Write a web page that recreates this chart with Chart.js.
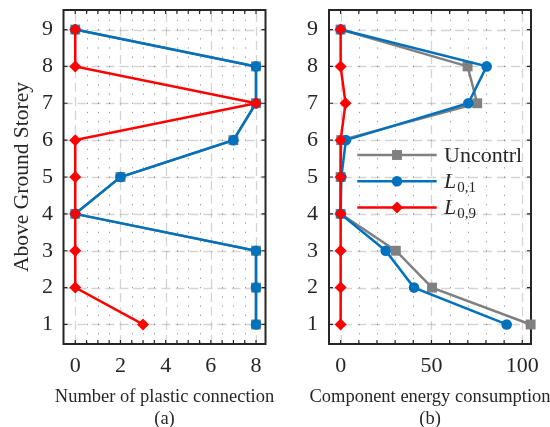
<!DOCTYPE html>
<html>
<head>
<meta charset="utf-8">
<script src="https://cdn.jsdelivr.net/npm/chart.js@4/dist/chart.umd.min.js"></script>
<style>
  html, body { margin: 0; padding: 0; background: #fff; overflow: hidden; width: 550px; height: 427px; }
  #wa { position: absolute; left: 0; top: 0; width: 295px; height: 431px; }
  #wb { position: absolute; left: 295px; top: 0; width: 255px; height: 431px; }
</style>
</head>
<body>
<div id="wa"><canvas id="ca"></canvas></div>
<div id="wb"><canvas id="cb"></canvas></div>
<script>
// Storeys above ground
const storeys = [1, 2, 3, 4, 5, 6, 7, 8, 9];
const storeyTicks = [1, 2, 3, 4, 5, 6, 7, 8, 9];

// (a) number of plastic connections, storey 1 -> 9
const plasticUncontrl = [8, 8, 8, 0, 2, 7, 8, 8, 0];
const plasticL01      = [8, 8, 8, 0, 2, 7, 8, 8, 0];
const plasticL09      = [3, 0, 0, 0, 0, 0, 8, 0, 0];
const plasticTicks = [0, 2, 4, 6, 8];
const plasticMinor = [0, 0.5, 1, 1.5, 2, 2.5, 3, 3.5, 4, 4.5, 5, 5.5, 6, 6.5, 7, 7.5, 8];

// (b) component energy consumption, storey 1 -> 9
const energyUncontrl = [104.6, 50.3, 30.4, 0, 0, 0.3, 75.2, 69.9, 0];
const energyL01      = [91.4, 40.4, 24.8, 0, 0.4, 2.9, 70.3, 80.4, 0];
const energyL09      = [0, 0, 0, 0, 0, 0, 2.7, 0, 0];
const energyTicks = [0, 50, 100];
const energyMinor = [0, 10, 20, 30, 40, 50, 60, 70, 80, 90, 100];

const serif = "'Liberation Serif', serif";
const ink = '#262626';
const GRAY = '#808080', BLUE = '#0072BD', RED = '#FF0000';

const pts = vals => vals.map((v, i) => ({ x: v, y: storeys[i] }));

function series(vals, color, style, radius, order) {
  return {
    data: pts(vals),
    showLine: true,
    borderColor: color,
    backgroundColor: color,
    borderWidth: 2.5,
    pointStyle: style,
    pointRadius: radius,
    pointHoverRadius: radius,
    pointBorderWidth: 0,
    clip: false,
    order: order
  };
}

// grid lines, box and inward tick marks, drawn beneath the data
const boxPlugin = {
  id: 'box',
  beforeDatasetsDraw(chart, args, o) {
    const { ctx, chartArea: a, scales: { x, y } } = chart;
    ctx.save();
    // minor dotted grid
    const step = Math.abs(y.getPixelForValue(1.25) - y.getPixelForValue(1));
    ctx.strokeStyle = 'rgba(38,38,38,0.45)';
    ctx.lineWidth = 1;
    ctx.setLineDash([1.3, step - 1.3]);
    const y0 = y.getPixelForValue(9.5);
    o.xMinor.forEach(v => {
      if (o.xTicks.includes(v)) return;
      const px = Math.round(x.getPixelForValue(v)) + 0.5;
      ctx.beginPath(); ctx.moveTo(px, y0 - 0.6); ctx.lineTo(px, a.bottom); ctx.stroke();
    });
    // major dashed grid
    ctx.strokeStyle = 'rgba(38,38,38,0.2)';
    ctx.lineWidth = 1.3;
    ctx.setLineDash([9, 5]);
    o.xTicks.forEach(v => {
      const px = Math.round(x.getPixelForValue(v)) + 0.5;
      ctx.beginPath(); ctx.moveTo(px, a.bottom); ctx.lineTo(px, a.top); ctx.stroke();
    });
    storeyTicks.forEach(v => {
      const py = Math.round(y.getPixelForValue(v)) + 0.5;
      ctx.beginPath(); ctx.moveTo(a.left, py); ctx.lineTo(a.right, py); ctx.stroke();
    });
    // box
    ctx.setLineDash([]);
    ctx.strokeStyle = ink;
    ctx.lineWidth = 2;
    ctx.strokeRect(a.left, a.top, a.right - a.left, a.bottom - a.top);
    // inward ticks
    ctx.lineWidth = 1.2;
    const tl = 4;
    o.xMinor.forEach(v => {
      const px = x.getPixelForValue(v);
      ctx.beginPath();
      ctx.moveTo(px, a.bottom); ctx.lineTo(px, a.bottom - tl);
      ctx.moveTo(px, a.top); ctx.lineTo(px, a.top + tl);
      ctx.stroke();
    });
    storeyTicks.forEach(v => {
      const py = y.getPixelForValue(v);
      ctx.beginPath();
      ctx.moveTo(a.left, py); ctx.lineTo(a.left + tl, py);
      ctx.moveTo(a.right, py); ctx.lineTo(a.right - tl, py);
      ctx.stroke();
    });
    ctx.restore();
  },
  afterDraw(chart, args, o) {
    // two-line axis caption under the x axis
    const { ctx, chartArea: a } = chart;
    ctx.save();
    ctx.fillStyle = ink;
    ctx.textAlign = 'center';
    ctx.textBaseline = 'middle';
    ctx.font = `18.5px ${serif}`;
    const cx = (a.left + a.right) / 2;
    ctx.fillText(o.caption[0], cx, a.bottom + 52.7);
    ctx.fillText(o.caption[1], cx, a.bottom + 75);
    ctx.restore();
  }
};

// legend with italic L and subscripted indices
const legendPlugin = {
  id: 'subLegend',
  afterDatasetsDraw(chart, args, o) {
    if (!o.items) return;
    const { ctx, chartArea: a } = chart;
    ctx.save();
    const x0 = a.left + 28.3, x1 = a.left + 107.7, xt = a.left + 115;
    o.items.forEach((it, i) => {
      const yy = a.top + 145 + i * 26.2;
      const ds = chart.data.datasets[it.ds];
      ctx.strokeStyle = ds.borderColor;
      ctx.lineWidth = 2.5;
      ctx.beginPath(); ctx.moveTo(x0, yy); ctx.lineTo(x1, yy); ctx.stroke();
      ctx.fillStyle = ds.backgroundColor;
      Chart.helpers.drawPoint(ctx, { pointStyle: ds.pointStyle, radius: ds.pointRadius, borderWidth: 0 }, (x0 + x1) / 2, yy);
      ctx.fillStyle = ink;
      ctx.textBaseline = 'alphabetic';
      ctx.textAlign = 'left';
      const base = yy + 7;
      if (it.sub) {
        ctx.font = `italic 22px ${serif}`;
        ctx.fillText(it.text, xt, base);
        const w = ctx.measureText(it.text).width;
        ctx.font = `15px ${serif}`;
        ctx.fillText(it.sub, xt + w + 1, base + 3.5);
      } else {
        ctx.font = `22px ${serif}`;
        ctx.fillText(it.text, xt, base);
      }
    });
    ctx.restore();
  }
};

function makeChart(id, sets, xr, xTicks, xMinor, caption, yTitle, dims, legendItems) {
  return new Chart(document.getElementById(id), {
    type: 'scatter',
    data: { datasets: sets },
    plugins: [boxPlugin, legendPlugin],
    options: {
      responsive: true,
      maintainAspectRatio: false,
      animation: false,
      events: [],
      layout: { padding: { top: 10, right: dims.right, left: 0, bottom: 0 } },
      plugins: {
        legend: { display: false },
        tooltip: { enabled: false },
        box: { xTicks: xTicks, xMinor: xMinor, caption: caption },
        subLegend: { items: legendItems }
      },
      scales: {
        x: {
          type: 'linear',
          min: xr[0], max: xr[1],
          afterBuildTicks: s => { s.ticks = xTicks.map(v => ({ value: v })); },
          afterFit: s => { s.height = 87; s.paddingLeft = 0; s.paddingRight = 0; },
          grid: { display: false, drawTicks: false },
          border: { display: false },
          ticks: { color: ink, padding: 9, font: { family: serif, size: 22 }, maxRotation: 0 }
        },
        y: {
          type: 'linear',
          min: 0.47, max: 9.53,
          afterBuildTicks: s => { s.ticks = storeyTicks.map(v => ({ value: v })); },
          afterFit: s => { s.width = dims.yw; s.paddingTop = 0; s.paddingBottom = 0; },
          grid: { display: false, drawTicks: false },
          border: { display: false },
          ticks: { color: ink, padding: dims.tp, font: { family: serif, size: 22 } },
          title: {
            display: !!yTitle, text: yTitle || '', color: ink,
            font: { family: serif, size: 21.5, lineHeight: 1.2 },
            padding: { top: 9, bottom: 0 }
          }
        }
      }
    }
  });
}

makeChart('ca', [
  series(plasticUncontrl, GRAY, 'rect', 7, 3),
  series(plasticL01, BLUE, 'circle', 5.3, 2),
  series(plasticL09, RED, 'rectRot', 6, 1)
], [-0.52, 8.42], plasticTicks, plasticMinor,
  ['Number of plastic connection', '(a)'], 'Above Ground Storey',
  { right: 29.5, yw: 63.5, tp: 10.5 }, null);

makeChart('cb', [
  series(energyUncontrl, GRAY, 'rect', 7, 3),
  series(energyL01, BLUE, 'circle', 5.3, 2),
  series(energyL09, RED, 'rectRot', 6, 1)
], [-6.4, 104.8], energyTicks, energyMinor,
  ['Component energy consumption', '(b)'], null,
  { right: 19, yw: 34, tp: 11 },
  [ { ds: 0, text: 'Uncontrl' }, { ds: 1, text: 'L', sub: '0,1' }, { ds: 2, text: 'L', sub: '0,9' } ]);
</script>
</body>
</html>
